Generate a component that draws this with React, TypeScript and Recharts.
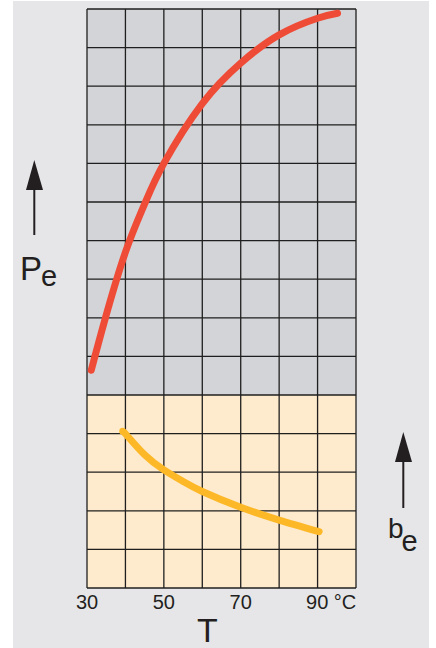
import React from "react";
import { ComposedChart, Line, XAxis, YAxis, CartesianGrid } from "recharts";

// Temperature ticks (grid) and labelled ticks
const tempTicks = [30, 40, 50, 60, 70, 80, 90, 100];
const tempLabels = [30, 50, 70, 90];
const rowTicks = [0, 1, 2, 3, 4, 5, 6, 7, 8, 9, 10, 11, 12, 13, 14, 15];

// Pe curve (red), in grid-row units
const peT = [31.1, 34.8, 40, 45, 50, 60, 70, 80, 90, 95.2];
const peV = [5.64, 7.0, 8.7, 9.95, 11.0, 12.55, 13.6, 14.33, 14.76, 14.89];

// be curve (yellow)
const beT = [39.3, 40.4, 45, 50, 55, 60, 70, 80, 90.4];
const beV = [4.06, 3.95, 3.45, 3.06, 2.76, 2.5, 2.09, 1.76, 1.46];

const peData = peT.map((t, i) => ({ t, v: peV[i] }));
const beData = beT.map((t, i) => ({ t, v: beV[i] }));

const FONT = "'Liberation Sans', Arial, Helvetica, sans-serif";
const INK = "#231f20";

const stripeFills = [
  ...Array(10).fill("#d3d4d8"),
  ...Array(5).fill("#feeacc"),
];

const TempTick = (props: any) => {
  const { x, y, payload } = props;
  const val = payload.value;
  if (!tempLabels.includes(val)) return <g />;
  if (val === 90) {
    return (
      <text x={x - 11.5} y={y + 21} textAnchor="start" fontSize={20} fontFamily={FONT} fill={INK}>
        {"90 °C"}
      </text>
    );
  }
  return (
    <text x={x} y={y + 21} textAnchor="middle" fontSize={20} fontFamily={FONT} fill={INK}>
      {String(val)}
    </text>
  );
};

export default function App() {
  return (
    <div style={{ position: "absolute", left: 0, top: 0, width: 436, height: 648, background: "#ffffff", overflow: "hidden" }}>
      <div style={{ position: "absolute", left: 13, top: 1, width: 416, height: 647, background: "#e6e6e8" }} />
      <div style={{ position: "absolute", left: 0, top: 0 }}>
        <ComposedChart width={436} height={648} margin={{ top: 9, right: 80, bottom: 0, left: 87 }}>
          <CartesianGrid
            stroke="#1f1f1f"
            strokeWidth={1.3}
            horizontalFill={stripeFills}
            fillOpacity={1}
          />
          <XAxis
            type="number"
            dataKey="t"
            domain={[30, 100]}
            ticks={tempTicks}
            interval={0}
            allowDataOverflow
            tickLine={false}
            axisLine={false}
            tickSize={0}
            tickMargin={0}
            tick={<TempTick />}
            height={60}
          />
          <YAxis
            type="number"
            domain={[0, 15]}
            ticks={rowTicks}
            interval={0}
            hide
          />
          <Line
            data={peData}
            dataKey="v"
            type="natural"
            stroke="#ef4c37"
            strokeWidth={7}
            strokeLinecap="round"
            dot={false}
            activeDot={false}
            isAnimationActive={false}
          />
          <Line
            data={beData}
            dataKey="v"
            type="natural"
            stroke="#fdb827"
            strokeWidth={7}
            strokeLinecap="round"
            dot={false}
            activeDot={false}
            isAnimationActive={false}
          />
        </ComposedChart>
      </div>
      <svg width={436} height={648} style={{ position: "absolute", left: 0, top: 0, pointerEvents: "none" }}>
        {/* Pe arrow and label */}
        <polygon points="34.3,160 26,190 43,190" fill={INK} />
        <line x1={34.3} y1={188} x2={34.3} y2={235} stroke={INK} strokeWidth={2} />
        <text x={20} y={280} fontSize={33} fontFamily={FONT} fill={INK}>
          P<tspan dx={-1} dy={6} fontSize={29}>e</tspan>
        </text>
        {/* be arrow and label */}
        <polygon points="403.3,432 395,462 412,462" fill={INK} />
        <line x1={403.3} y1={460} x2={403.3} y2={508} stroke={INK} strokeWidth={2} />
        <text x={388} y={538} fontSize={28} fontFamily={FONT} fill={INK}>
          b<tspan dx={-2} dy={13} fontSize={29}>e</tspan>
        </text>
        {/* T axis title */}
        <text x={207.5} y={641.5} textAnchor="middle" fontSize={34} fontFamily={FONT} fill={INK}>T</text>
      </svg>
    </div>
  );
}
